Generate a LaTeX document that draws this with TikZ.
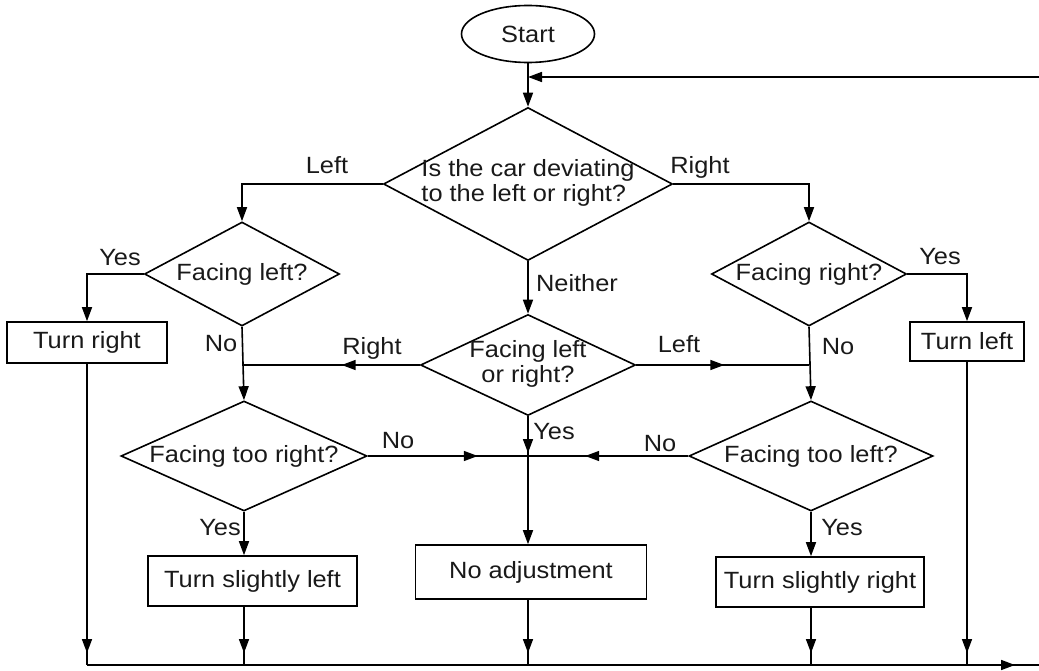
\documentclass[tikz,border=0pt]{standalone}
\usepackage{fontspec}
\setmainfont[FakeStretch=1.08]{Liberation Sans}
\usetikzlibrary{shapes.geometric,arrows.meta,decorations.markings}
\newcommand{\dtxt}[2]{\makebox[0pt]{\begin{tabular}{@{}#1@{}}#2\end{tabular}}}
\begin{document}
\begin{tikzpicture}[x=1pt,y=-1pt,line width=1.6pt,
  every node/.style={font=\fontsize{23.5}{25}\selectfont,inner sep=0pt,text=black!90},
  dec/.style={draw,diamond},
  box/.style={draw,rectangle},
  term/.style={draw,ellipse},
  lbl/.style={text height=17pt,text depth=0pt},
  arr/.style={-{Triangle[length=14pt,width=10pt]}},
  tipat/.style={postaction={decorate,decoration={markings,mark=at position #1 with {\arrow{Triangle[length=14pt,width=10pt]}}}}}]
\useasboundingbox (0,0) rectangle (1039,671);
% nodes
\node[term,minimum width=133pt,minimum height=57pt] (start) at (528,34) {Start};
\node[dec,minimum width=289pt,minimum height=153pt] (d1) at (528,184) {\dtxt{l}{Is the car deviating\\to the left or right?}};
\node[dec,minimum width=195pt,minimum height=104pt] (d2) at (242,274) {\makebox[0pt]{Facing left?}};
\node[dec,minimum width=195pt,minimum height=104pt] (d5) at (809,274) {\makebox[0pt]{Facing right?}};
\node[dec,minimum width=215pt,minimum height=101pt] (d3) at (528,365) {\dtxt{c}{Facing left\\or right?}};
\node[dec,minimum width=246pt,minimum height=110pt] (d4) at (244,456) {\makebox[0pt]{Facing too right?}};
\node[dec,minimum width=244pt,minimum height=110pt] (d6) at (811,456) {\makebox[0pt]{Facing too left?}};
\node[box,minimum width=160pt,minimum height=41pt] (TR) at (87,342.5) {Turn right};
\node[box,minimum width=114pt,minimum height=39pt] (TL) at (967,341.5) {Turn left};
\node[box,minimum width=209pt,minimum height=50pt] (TSL) at (252.5,581) {Turn slightly left};
\node[box,minimum width=231pt,minimum height=54pt] (NA) at (531,572) {No adjustment};
\node[box,minimum width=208pt,minimum height=50pt] (TSR) at (820,582) {Turn slightly right};
% labels
\node[lbl] (l1) at (327,165) {Left};
\node[lbl] (l2) at (700,165) {Right};
\node[lbl] (l3) at (577,283) {Neither};
\node[lbl] (l4) at (120,257) {Yes};
\node[lbl] (l5) at (940,256) {Yes};
\node[lbl] (l6) at (221,343) {No};
\node[lbl] (l7) at (372,346) {Right};
\node[lbl] (l8) at (679,344) {Left};
\node[lbl] (l9) at (838,346) {No};
\node[lbl] (l10) at (554,431) {Yes};
\node[lbl] (l11) at (398,440) {No};
\node[lbl] (l12) at (660,443) {No};
\node[lbl] (l13) at (220,527) {Yes};
\node[lbl] (l14) at (842,527) {Yes};
% coordinates
\coordinate (rin) at (1039,77);
\coordinate (rout) at (1039,665);
\coordinate (J) at (d3.south |- d4.east);
% connectors
\draw[arr] (start.south) -- (d1.north);
\draw[arr] (rin) -- (rin -| start.south);
\draw[arr] (d1.west) -| (d2.north);
\draw[arr] (d1.east) -| (d5.north);
\draw[arr] (d1.south) -- (d3.north);
\draw[arr] (d2.west) -| (TR.north);
\draw[arr] (d5.east) -| (TL.north);
\draw[arr] (d2.south) -- (d4.north);
\draw[arr] (d5.south) -- (d6.north);
\draw[tipat=78pt] (d3.west) -- (d3.west -| d2.south);
\draw[tipat=88pt] (d3.east) -- (d3.east -| d5.south);
\draw[tipat=-3pt] (d3.south) -- (J);
\draw[arr] (J) -- (J |- NA.north);
\draw[tipat=110pt] (d4.east) -- (J);
\draw[tipat=103pt] (d6.west) -- (J);
\draw[arr] (d4.south) -- (d4.south |- TSL.north);
\draw[arr] (d6.south) -- (d6.south |- TSR.north);
\draw[tipat=-12pt] (TR.south) -- (TR.south |- rout);
\draw[tipat=-12pt] (TSL.south -| d4.south) -- (d4.south |- rout);
\draw[tipat=-12pt] (NA.south -| J) -- (J |- rout);
\draw[tipat=-12pt] (TSR.south -| d6.south) -- (d6.south |- rout);
\draw[tipat=-12pt] (TL.south) -- (TL.south |- rout);
\draw[tipat=-24pt] (TR.south |- rout) -- (rout);
\end{tikzpicture}
\end{document}
